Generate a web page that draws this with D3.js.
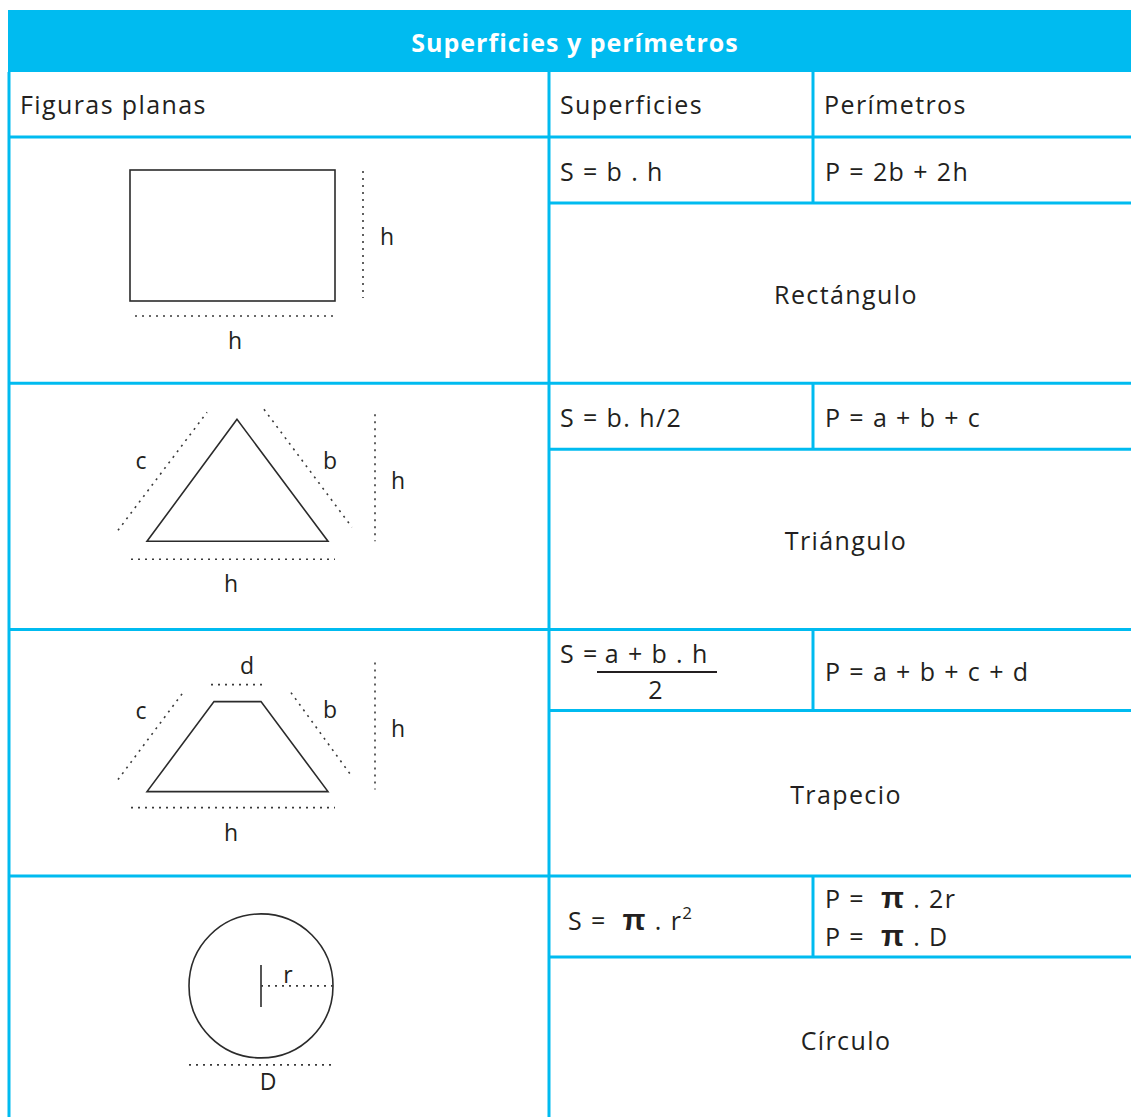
<!DOCTYPE html>
<html>
<head>
<meta charset="utf-8">
<script src="https://cdn.jsdelivr.net/npm/d3@7"></script>
<style>
  body { margin: 0; background: #fff; }
  svg text { font-family: "Open Sans", sans-serif; fill: #231f20; letter-spacing: 1.4px; }
  .grid { stroke: #00bbf0; stroke-width: 3; }
  .shape { fill: none; stroke: #2b2b2b; stroke-width: 1.6; }
  .dots { fill: none; stroke: #3a3a3a; stroke-width: 1.6; stroke-dasharray: 2 5; }
</style>
</head>
<body>
<svg id="chart"></svg>
<script>
/* global d3 */

// ---- data ----
var title = "Superficies y perímetros";
var columns = ["Figuras planas", "Superficies", "Perímetros"];
var figures = ["Rectángulo", "Triángulo", "Trapecio", "Círculo"];
var areaFormulas = ["S = b . h", "S = b. h/2", "S = a + b . h", "S = π . r²"];
var perimFormulas = [["P = 2b + 2h"], ["P = a + b + c"], ["P = a + b + c + d"], ["P = π . 2r", "P = π . D"]];

var width = 1131,
  height = 1117,
  left = 9,
  fs = "25px",
  colEdges = [9, 549, 813, width],
  formulaH = [66, 66, 81, 81];

var svg = d3.select("#chart")
  .attr("width", width)
  .attr("height", height);

// rows share the same height
var y = d3.scaleBand()
  .domain(figures)
  .range([137, 137 + 4 * 246.3]);

// title band
svg.append("rect")
  .attr("x", 8).attr("y", 10)
  .attr("width", width - 8).attr("height", 62)
  .attr("fill", "#00bbf0");
svg.append("text")
  .attr("x", 575).attr("y", 43)
  .attr("dy", "0.35em")
  .attr("text-anchor", "middle")
  .style("font-size", fs)
  .style("font-weight", "bold")
  .style("letter-spacing", "1px")
  .style("fill", "#fff")
  .text(title);

// header row
svg.selectAll(".colhead")
  .data(columns)
  .enter().append("text")
  .attr("class", "colhead")
  .attr("x", function(d, i) { return colEdges[i] + 11; })
  .attr("y", 105)
  .attr("dy", "0.35em")
  .style("font-size", fs)
  .text(function(d) { return d; });

var g = svg.append("g");

// grid lines
g.append("line").attr("class", "grid")
  .attr("x1", left).attr("x2", left).attr("y1", 72).attr("y2", height);
g.append("line").attr("class", "grid")
  .attr("x1", colEdges[1]).attr("x2", colEdges[1]).attr("y1", 72).attr("y2", height);
g.append("line").attr("class", "grid")
  .attr("x1", colEdges[2]).attr("x2", colEdges[2]).attr("y1", 72).attr("y2", 137);
g.append("line").attr("class", "grid")
  .attr("x1", left).attr("x2", width).attr("y1", 137).attr("y2", 137);

var rows = g.selectAll(".row")
  .data(figures)
  .enter().append("g")
  .attr("class", "row")
  .attr("transform", function(d) { return "translate(0," + y(d) + ")"; });

// column 2 divider only spans the formula sub row
rows.append("line").attr("class", "grid")
  .attr("x1", colEdges[2]).attr("x2", colEdges[2])
  .attr("y1", 0).attr("y2", function(d, i) { return formulaH[i]; });

rows.filter(function(d, i) { return i > 0; })
  .append("line").attr("class", "grid")
  .attr("x1", left).attr("x2", width).attr("y1", 0).attr("y2", 0);
rows.append("line").attr("class", "grid")
  .attr("x1", colEdges[1]).attr("x2", width)
  .attr("y1", function(d, i) { return formulaH[i]; })
  .attr("y2", function(d, i) { return formulaH[i]; });

// figure names
rows.append("text")
  .attr("x", 846)
  .attr("y", function(d, i) { return (formulaH[i] + y.bandwidth()) / 2 + 2; })
  .attr("dy", "0.35em")
  .attr("text-anchor", "middle")
  .style("font-size", fs)
  .text(function(d) { return d; });

// formulas with π and superscripts
function writeFormula(sel, str, size) {
  str.split(/(π|²)/).forEach(function(part) {
    if (!part) return;
    if (part === "π") {
      sel.append("tspan").text("π")
        .attr("dx", 8)
        .style("font-family", "Liberation Sans")
        .style("font-weight", "bold")
        .style("font-size", (size + 5) + "px");
    } else if (part === "²") {
      sel.append("tspan").text("2").attr("dy", -11).style("font-size", "17px");
    } else {
      sel.append("tspan").text(part);
    }
  });
}

rows.each(function(d, i) {
  var r = d3.select(this),
    mid = formulaH[i] / 2;
  if (i === 2) {
    // fraction
    var t = r.append("text").attr("x", colEdges[1] + 11).attr("y", mid - 16).attr("dy", "0.35em")
      .style("font-size", fs);
    t.append("tspan").text("S =");
    t.append("tspan").text(areaFormulas[i].replace("S = ", "")).attr("dx", 6);
    r.append("line").attr("x1", 597).attr("x2", 717)
      .attr("y1", mid + 2).attr("y2", mid + 2)
      .attr("stroke", "#231f20").attr("stroke-width", 2);
    r.append("text").attr("x", 656).attr("y", mid + 20).attr("dy", "0.35em")
      .attr("text-anchor", "middle").style("font-size", fs).text("2");
  } else {
    var s = r.append("text")
      .attr("x", colEdges[1] + (i === 3 ? 19 : 11))
      .attr("y", mid + (i === 3 ? 5 : 2)).attr("dy", "0.35em")
      .style("font-size", fs);
    writeFormula(s, areaFormulas[i], 25);
  }
  var p = perimFormulas[i];
  p.forEach(function(f, j) {
    var tp = r.append("text")
      .attr("x", colEdges[2] + 12)
      .attr("y", mid + 2 + (j - (p.length - 1) / 2) * 38)
      .attr("dy", "0.35em")
      .style("font-size", fs);
    writeFormula(tp, f, 25);
  });
});

// ---- drawings, in local row coordinates ----
var line = d3.line();
function dots(sel, pts) { sel.append("path").attr("class", "dots").attr("d", line(pts)); }
function label(sel, x, yy, t) {
  sel.append("text").attr("x", x).attr("y", yy).attr("dy", "0.35em")
    .attr("text-anchor", "middle").style("font-size", "23px").style("letter-spacing", "0")
    .text(t);
}

var rect = d3.select(rows.nodes()[0]);
rect.append("rect").attr("class", "shape")
  .attr("x", 130).attr("y", 33).attr("width", 205).attr("height", 131);
dots(rect, [[363, 34], [363, 161]]);
dots(rect, [[135, 179], [338, 179]]);
label(rect, 387, 100, "h");
label(rect, 235, 204, "h");

var tri = d3.select(rows.nodes()[1]);
tri.append("path").attr("class", "shape")
  .attr("d", line([[237, 36], [147, 158], [328, 158]]) + "Z");
dots(tri, [[118, 147], [207, 29]]);
dots(tri, [[264, 26], [352, 144]]);
dots(tri, [[375, 31], [375, 158]]);
dots(tri, [[131, 176], [335, 176]]);
label(tri, 141, 78, "c");
label(tri, 330, 78, "b");
label(tri, 398, 98, "h");
label(tri, 231, 201, "h");

var trap = d3.select(rows.nodes()[2]);
trap.append("path").attr("class", "shape")
  .attr("d", line([[214, 72], [261, 72], [328, 162], [147, 162]]) + "Z");
dots(trap, [[211, 55], [265, 55]]);
dots(trap, [[118, 150], [183, 63]]);
dots(trap, [[291, 63], [352, 147]]);
dots(trap, [[375, 33], [375, 160]]);
dots(trap, [[131, 178], [335, 178]]);
label(trap, 247, 36, "d");
label(trap, 141, 81, "c");
label(trap, 330, 80, "b");
label(trap, 398, 99, "h");
label(trap, 231, 203, "h");

var circ = d3.select(rows.nodes()[3]);
circ.append("circle").attr("class", "shape")
  .attr("cx", 261).attr("cy", 110).attr("r", 72);
circ.append("path").attr("class", "shape").attr("d", line([[261, 89], [261, 131]]));
dots(circ, [[261, 110], [333, 110]]);
dots(circ, [[189, 189], [333, 189]]);
label(circ, 288, 99, "r");
label(circ, 268, 206, "D");
</script>
</body>
</html>
